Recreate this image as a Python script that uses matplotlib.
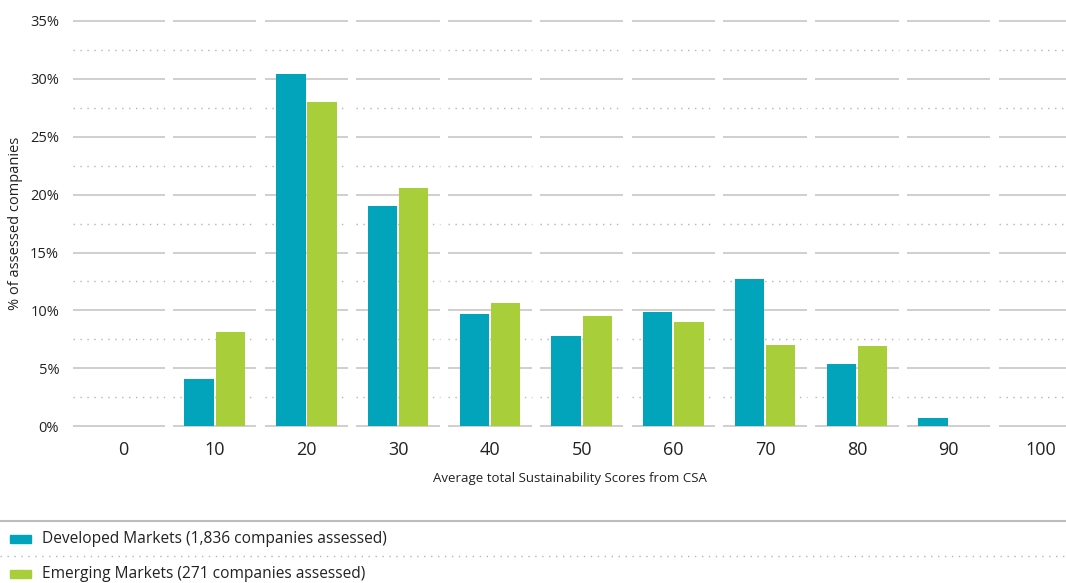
import matplotlib
matplotlib.use('Agg')

import numpy as np
import matplotlib.pyplot as plt
from matplotlib.patches import Rectangle
from matplotlib.lines import Line2D

# Data
scores = ["0", "10", "20", "30", "40", "50", "60", "70", "80", "90", "100"]
developed = [0, 4.1, 30.4, 19.0, 9.7, 7.8, 9.9, 12.7, 5.4, 0.7, 0]
emerging = [0, 8.1, 28.0, 20.6, 10.6, 9.5, 9.0, 7.0, 6.9, 0, 0]
legend_labels = ["Developed Markets (1,836 companies assessed)",
                 "Emerging Markets (271 companies assessed)"]
y_ticks = [0, 5, 10, 15, 20, 25, 30, 35]

teal = "#02a4bb"
green = "#a8ce3a"
grid_solid = "#cbc6c6"
grid_dot = "#b4b4b4"

plt.rcParams['font.family'] = ['Open Sans', 'DejaVu Sans']

fig = plt.figure(figsize=(10.66, 5.83), dpi=100)
ax = fig.add_axes([0.0685, 0.269, 0.9315, 0.695])

x = np.arange(len(scores))
w = 0.32
ax.bar(x - 0.17, developed, width=w, color=teal, zorder=3)
ax.bar(x + 0.17, emerging, width=w, color=green, zorder=3)

# segmented gridlines, broken at category boundaries
gap = 0.045
for i in x:
    x0 = i - 0.5 + gap if i > 0 else -0.545
    x1 = i + 0.5 - gap
    for yv in y_ticks:
        ax.plot([x0, x1], [yv, yv], color=grid_solid, lw=1.2, zorder=1,
                clip_on=False, solid_capstyle='butt')
    for yv in np.array(y_ticks[:-1]) + 2.5:
        ax.plot([x0, x1], [yv, yv], color=grid_dot, lw=1.0, zorder=1,
                linestyle=(0, (1, 4)), clip_on=False)

ax.set_xlim(-0.545, 10.28)
ax.set_ylim(0, 35)
ax.set_xticks(x)
ax.set_xticklabels(scores, fontsize=13, color="#222222")
ax.set_yticks(y_ticks)
ax.set_yticklabels([f"{v}%" for v in y_ticks], fontsize=10.5, color="#222222")
ax.tick_params(length=0)
ax.tick_params(axis='x', pad=11)
ax.tick_params(axis='y', pad=10)
for s in ax.spines.values():
    s.set_visible(False)

ax.set_xlabel("Average total Sustainability Scores from CSA", fontsize=9.5,
              color="#222222", labelpad=9)
ax.set_ylabel("% of assessed companies", fontsize=10.5, color="#222222",
              labelpad=5)

# legend block at the bottom
H = 583.0
W = 1066.0
fig.add_artist(Line2D([0, 1], [1 - 521 / H, 1 - 521 / H], color="#bdbdbd", lw=1.5))
fig.add_artist(Line2D([0, 1], [1 - 556 / H, 1 - 556 / H], color="#b4b4b4",
                      lw=1.0, linestyle=(0, (1, 4))))
for lbl, col, yc in zip(legend_labels, [teal, green], [539, 574]):
    fig.add_artist(Rectangle((10 / W, 1 - (yc + 4) / H), 21 / W, 8 / H,
                             color=col, transform=fig.transFigure))
    fig.text(42 / W, 1 - yc / H, lbl, fontsize=11.2, color="#222222",
             va='center', ha='left')

fig.savefig("out.png", dpi=100)
